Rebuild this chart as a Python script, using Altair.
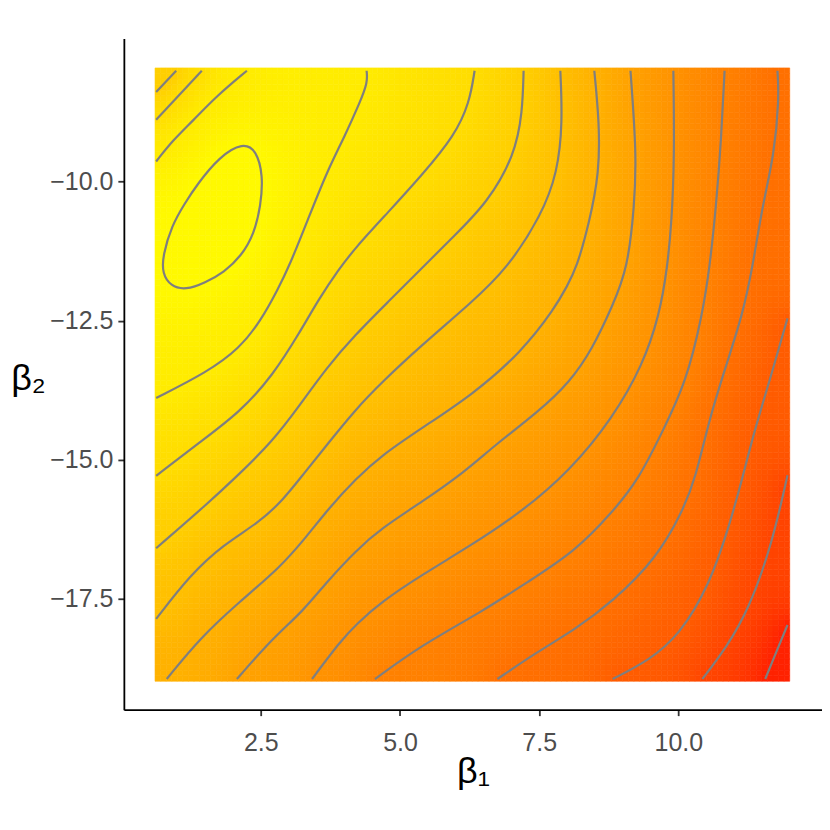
import numpy as np
import pandas as pd
import altair as alt

alt.data_transformers.disable_max_rows()

# ---- contour lines (beta1, beta2), with their level index ----
c01_b1 = [0.62, 0.98]
c01_b2 = [-8.39, -8.01]
c02_b1 = [0.62, 1.44]
c02_b2 = [-8.89, -8.01]
c03_b1 = [0.62, 0.92, 1.28, 1.71, 2.25]
c03_b2 = [-9.64, -9.26, -8.91, -8.46, -8.01]
ell_b1 = [2.18, 2.42, 2.54, 2.50, 2.38, 2.15, 1.84, 1.50, 1.15, 0.88, 0.73, 0.74, 0.90, 1.13, 1.35, 1.76]
ell_b2 = [-9.30, -9.44, -9.89, -10.43, -10.94, -11.34, -11.63, -11.82, -11.95, -11.88, -11.65, -11.33, -10.79, -10.40, -10.06, -9.55]
c04_b1 = [4.40, 4.42, 4.28, 4.01, 3.68, 3.34, 3.02, 2.80, 2.50, 2.12, 1.53, 0.62]
c04_b2 = [-8.01, -8.22, -8.58, -9.18, -9.84, -10.70, -11.50, -11.95, -12.50, -13.00, -13.43, -13.89]
c05_b1 = [6.34, 6.25, 5.98, 5.39, 4.78, 4.19, 3.90, 3.55, 3.20, 2.72, 2.12, 1.41, 0.62]
c05_b2 = [-8.01, -8.58, -9.18, -9.89, -10.56, -11.20, -11.58, -12.10, -12.71, -13.48, -14.15, -14.68, -15.29]
c06_b1 = [7.22, 7.20, 7.06, 6.57, 5.98, 5.39, 4.78, 4.19, 3.68, 3.20, 2.72, 2.07, 1.53, 0.62]
c06_b2 = [-8.01, -8.76, -9.53, -10.38, -10.97, -11.56, -12.17, -12.76, -13.35, -14.02, -14.66, -15.30, -15.80, -16.59]
c07_b1 = [7.88, 7.92, 7.83, 7.54, 6.93, 6.29, 5.39, 4.67, 4.19, 3.68, 3.25, 2.90, 2.48, 1.82, 1.23, 0.62]
c07_b2 = [-8.01, -8.94, -9.84, -10.61, -11.56, -12.17, -12.94, -13.61, -14.11, -14.74, -15.28, -15.72, -16.12, -16.53, -17.07, -17.86]
c08_b1 = [8.49, 8.58, 8.58, 8.40, 8.17, 8.00, 7.78, 7.18, 6.29, 5.39, 4.67, 4.22, 3.72, 3.30, 2.84, 2.12, 1.41, 0.81]
c08_b2 = [-8.01, -8.94, -9.84, -10.74, -11.56, -11.88, -12.28, -13.07, -13.84, -14.43, -14.92, -15.33, -15.87, -16.41, -16.94, -17.55, -18.20, -18.94]
c09_b1 = [9.14, 9.25, 9.21, 9.09, 8.82, 8.46, 8.05, 7.47, 6.70, 6.16, 5.39, 4.67, 4.22, 3.68, 3.25, 2.72, 2.07]
c09_b2 = [-8.01, -9.53, -10.43, -11.56, -12.23, -13.00, -13.61, -14.15, -14.74, -15.22, -15.76, -16.23, -16.62, -17.20, -17.73, -18.20, -18.94]
c10_b1 = [9.91, 9.93, 9.88, 9.80, 9.66, 9.36, 8.82, 8.05, 7.18, 6.29, 5.39, 4.67, 4.22, 3.92, 3.42]
c10_b2 = [-8.01, -9.53, -10.74, -11.56, -12.40, -13.30, -14.25, -15.20, -15.94, -16.53, -17.07, -17.55, -17.95, -18.27, -18.94]
c11_b1 = [10.83, 10.77, 10.68, 10.56, 10.43, 10.14, 9.71, 9.30, 8.82, 8.13, 7.29, 6.47, 5.39, 4.55]
c11_b2 = [-8.01, -9.23, -10.43, -11.56, -12.40, -13.61, -14.50, -15.33, -15.94, -16.66, -17.20, -17.73, -18.33, -18.94]
c12_b1 = [11.78, 11.81, 11.72, 11.51, 11.33, 11.15, 10.86, 10.56, 10.31, 10.07, 9.61, 8.82, 8.13, 7.47, 6.75]
c12_b2 = [-8.01, -8.51, -9.53, -10.43, -11.56, -12.40, -13.30, -14.25, -15.33, -15.94, -16.77, -17.55, -18.06, -18.45, -18.94]
c13_b1 = [11.96, 11.63, 11.36, 11.15, 10.92, 10.56, 10.02, 9.48, 8.82]
c13_b2 = [-12.46, -13.61, -14.50, -15.33, -16.17, -17.25, -18.15, -18.60, -18.94]
c14_b1 = [11.96, 11.69, 11.28, 10.86, 10.43]
c14_b2 = [-15.28, -16.48, -17.66, -18.38, -18.94]
c15_b1 = [11.96, 11.76, 11.56]
c15_b2 = [-17.97, -18.45, -18.94]

open_lines = [
    ("c01", -4, c01_b1, c01_b2), ("c02", -3, c02_b1, c02_b2), ("c03", -2, c03_b1, c03_b2),
    ("c04", -2, c04_b1, c04_b2), ("c05", -3, c05_b1, c05_b2), ("c06", -4, c06_b1, c06_b2),
    ("c07", -5, c07_b1, c07_b2), ("c08", -6, c08_b1, c08_b2), ("c09", -7, c09_b1, c09_b2),
    ("c10", -8, c10_b1, c10_b2), ("c11", -9, c11_b1, c11_b2), ("c12", -10, c12_b1, c12_b2),
    ("c13", -11, c13_b1, c13_b2), ("c14", -12, c14_b1, c14_b2), ("c15", -13, c15_b1, c15_b2),
]
closed_lines = [("ell", -1, ell_b1, ell_b2)]

# extent of the shaded grid
b1_range = [0.6, 12.0]
b2_range = [-18.98, -7.96]
x_ticks = [2.5, 5.0, 7.5, 10.0]
y_ticks = [-10.0, -12.5, -15.0, -17.5]

# ---- shaded surface reconstructed from the read contour levels (Laplace fill) ----
nx, ny = 114, 110
dx = (b1_range[1] - b1_range[0]) / nx
dy = (b2_range[1] - b2_range[0]) / ny
xc = b1_range[0] + dx * (np.arange(nx) + 0.5)
yc = b2_range[0] + dy * (np.arange(ny) + 0.5)
V = np.full((ny, nx), -7.0)
fixed = np.zeros((ny, nx), dtype=bool)


def burn(xs, ys, lv, closed=False):
    xs = list(xs); ys = list(ys)
    if closed:
        xs = xs + [xs[0]]; ys = ys + [ys[0]]
    for i in range(len(xs) - 1):
        t = np.linspace(0, 1, 40)
        px = xs[i] + (xs[i + 1] - xs[i]) * t
        py = ys[i] + (ys[i + 1] - ys[i]) * t
        ix = np.clip(((px - b1_range[0]) / dx).astype(int), 0, nx - 1)
        iy = np.clip(((py - b2_range[0]) / dy).astype(int), 0, ny - 1)
        V[iy, ix] = lv
        fixed[iy, ix] = True


for _, lv, xs, ys in open_lines:
    burn(xs, ys, lv)
for _, lv, xs, ys in closed_lines:
    burn(xs, ys, lv, closed=True)

for _ in range(5000):
    P = np.pad(V, 1, mode="edge")
    avg = (P[:-2, 1:-1] + P[2:, 1:-1] + P[1:-1, :-2] + P[1:-1, 2:]) / 4.0
    V = np.where(fixed, V, avg)

XX, YY = np.meshgrid(xc, yc)
grid = pd.DataFrame({
    "xc": np.round(XX.ravel(), 3),
    "yc": np.round(YY.ravel(), 3),
    "v": np.round(V.ravel(), 3),
})

rows = []
for name, lv, xs, ys in open_lines:
    for i, (a, b) in enumerate(zip(xs, ys)):
        rows.append({"id": name, "i": i, "b1": a, "b2": b})
lines_df = pd.DataFrame(rows)
rows = []
for name, lv, xs, ys in closed_lines:
    for i, (a, b) in enumerate(zip(xs, ys)):
        rows.append({"id": name, "i": i, "b1": a, "b2": b})
ell_df = pd.DataFrame(rows)

xscale = alt.Scale(domain=[0.04, 12.58], nice=False, zero=False)
yscale = alt.Scale(domain=[-19.49, -7.43], nice=False, zero=False)
cscale = alt.Scale(domain=[-13.4, -0.6], range=["#FF0000", "#FFFF00"], interpolate="lab", clamp=True)

xaxis = alt.Axis(values=x_ticks, format=".1f", title="β₁", grid=False,
                 titleY=62, titleBaseline="middle", labelPadding=15)
yaxis = alt.Axis(values=y_ticks, format=".1f", title="β₂", grid=False, labelPadding=5,
                 titleAngle=0, titleX=-96, titleY=340, titleAlign="center", titleBaseline="middle")

hx = round(dx / 2, 5)
hy = round(dy / 2, 5)
surface = alt.Chart(grid).transform_calculate(
    x0=f"datum.xc - {hx}", x1=f"datum.xc + {hx}",
    y0=f"datum.yc - {hy}", y1=f"datum.yc + {hy}",
).mark_rect(strokeWidth=0.6).encode(
    x=alt.X("x0:Q", scale=xscale, axis=xaxis),
    x2="x1:Q",
    y=alt.Y("y0:Q", scale=yscale, axis=yaxis),
    y2="y1:Q",
    fill=alt.Fill("v:Q", scale=cscale, legend=None),
    stroke=alt.Stroke("v:Q", scale=cscale, legend=None),
)

contour_open = alt.Chart(lines_df).mark_line(
    interpolate="basis", color="#7F7F7F", strokeWidth=2.2
).encode(
    x=alt.X("b1:Q", scale=xscale),
    y=alt.Y("b2:Q", scale=yscale),
    detail="id:N",
    order="i:Q",
)

contour_closed = alt.Chart(ell_df).mark_line(
    interpolate="basis-closed", color="#7F7F7F", strokeWidth=2.2
).encode(
    x=alt.X("b1:Q", scale=xscale),
    y=alt.Y("b2:Q", scale=yscale),
    detail="id:N",
    order="i:Q",
)

chart = alt.layer(surface, contour_open, contour_closed).properties(
    width=699, height=672,
    autosize=alt.AutoSizeParams(type="none"),
    padding={"left": 116, "top": 30, "right": 0, "bottom": 100},
    background="white",
).configure_view(stroke=None).configure_axis(
    labelFont="Liberation Sans", labelFontSize=25, labelColor="#4D4D4D",
    titleFont="Liberation Sans", titleFontSize=36, titleFontWeight="normal", titleColor="#000000",
    domainColor="#000000", domainWidth=1.8,
    tickColor="#333333", tickWidth=1.8, tickSize=6,
)

chart.save("out.html", embed_options={"renderer": "svg", "actions": False})
